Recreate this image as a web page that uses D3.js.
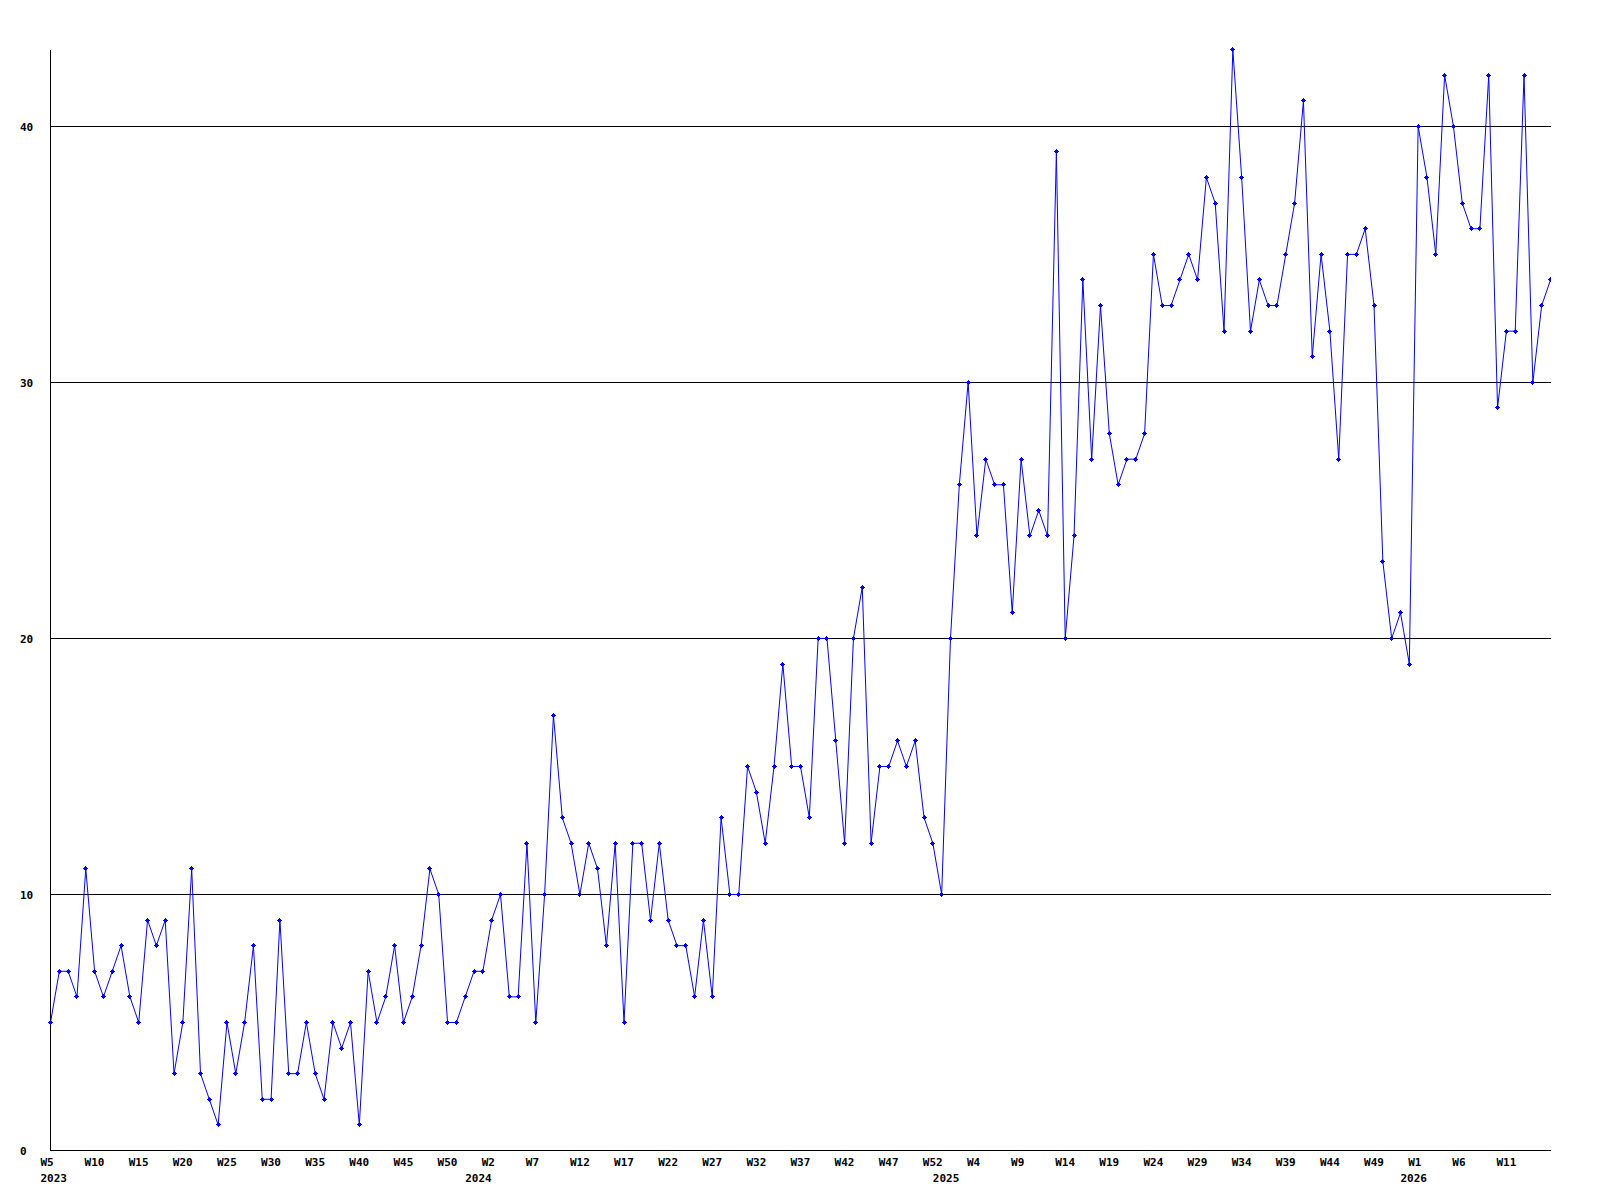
<!DOCTYPE html>
<html>
<head>
<meta charset="utf-8">
<script src="https://cdn.jsdelivr.net/npm/d3@7"></script>
<style>
  html, body { margin: 0; padding: 0; background: #fff; }
  svg { display: block; }
  .lbl { font-family: "DejaVu Sans Mono", monospace; font-weight: bold; font-size: 11px; fill: #000; }
</style>
</head>
<body>
<svg id="chart" width="1600" height="1200"></svg>
<script>
// ---- data ----
const yearWeeks = [["2023", 5, 53], ["2024", 1, 53], ["2025", 1, 53], ["2026", 1, 16]];
const categories = [];
yearWeeks.forEach(([yr, a, b]) => { for (let w = a; w <= b; w++) categories.push(yr + "-W" + w); });

const values = [
  5, 7, 7, 6, 11, 7, 6, 7, 8, 6, 5, 9, 8, 9, 3, 5, 11, 3, 2, 1,
  5, 3, 5, 8, 2, 2, 9, 3, 3, 5, 3, 2, 5, 4, 5, 1, 7, 5, 6, 8,
  5, 6, 8, 11, 10, 5, 5, 6, 7, 7, 9, 10, 6, 6, 12, 5, 10, 17, 13, 12,
  10, 12, 11, 8, 12, 5, 12, 12, 9, 12, 9, 8, 8, 6, 9, 6, 13, 10, 10, 15,
  14, 12, 15, 19, 15, 15, 13, 20, 20, 16, 12, 20, 22, 12, 15, 15, 16, 15, 16, 13,
  12, 10, 20, 26, 30, 24, 27, 26, 26, 21, 27, 24, 25, 24, 39, 20, 24, 34, 27, 33,
  28, 26, 27, 27, 28, 35, 33, 33, 34, 35, 34, 38, 37, 32, 43, 38, 32, 34, 33, 33,
  35, 37, 41, 31, 35, 32, 27, 35, 35, 36, 33, 23, 20, 21, 19, 40, 38, 35, 42, 40,
  37, 36, 36, 42, 29, 32, 32, 42, 30, 33, 34
];

const weekTicks = [
  "2023-W5", "2023-W10", "2023-W15", "2023-W20", "2023-W25", "2023-W30", "2023-W35", "2023-W40", "2023-W45", "2023-W50",
  "2024-W2", "2024-W7", "2024-W12", "2024-W17", "2024-W22", "2024-W27", "2024-W32", "2024-W37", "2024-W42", "2024-W47", "2024-W52",
  "2025-W4", "2025-W9", "2025-W14", "2025-W19", "2025-W24", "2025-W29", "2025-W34", "2025-W39", "2025-W44", "2025-W49",
  "2026-W1", "2026-W6", "2026-W11"
];
const yearTicks = ["2023-W5", "2024-W1", "2025-W1", "2026-W1"];
const yTicks = [0, 10, 20, 30, 40];
const gridValues = [10, 20, 30, 40];
const yMax = 43;

// ---- chart ----
const svg = d3.select("#chart");
const pLeft = 50.5, pRight = 1550.5, pTop = 49.5, pBottom = 1150.5;

const x = d3.scalePoint().domain(categories).range([pLeft, pRight]);
const y = d3.scaleLinear().domain([0, yMax]).range([pBottom, pTop]);
const step = x.step();

// gridlines
svg.append("g").selectAll("line").data(gridValues).join("line")
  .attr("x1", pLeft).attr("x2", pRight + 0.5)
  .attr("y1", d => Math.floor(y(d)) + 0.5).attr("y2", d => Math.floor(y(d)) + 0.5)
  .attr("stroke", "#000").attr("stroke-width", 1).attr("shape-rendering", "crispEdges");

// axes lines
svg.append("line").attr("x1", pLeft).attr("x2", pLeft).attr("y1", pTop).attr("y2", pBottom)
  .attr("stroke", "#000").attr("shape-rendering", "crispEdges");
svg.append("line").attr("x1", pLeft).attr("x2", pRight + 0.5).attr("y1", pBottom).attr("y2", pBottom)
  .attr("stroke", "#000").attr("shape-rendering", "crispEdges");

// y axis labels
const yAxis = d3.axisLeft(y).tickValues(yTicks).tickSize(0).tickFormat(d3.format("d"));
const gy = svg.append("g").call(yAxis);
gy.select(".domain").remove();
gy.attr("font-family", null).attr("font-size", null);
gy.selectAll("text").attr("class", "lbl").attr("x", 20).attr("text-anchor", "start")
  .attr("dy", "0.36em").attr("fill", null);

// x axis week labels
const xAxis = d3.axisBottom(x).tickValues(weekTicks).tickSize(0).tickFormat(d => d.split("-")[1]);
const gx = svg.append("g").attr("transform", "translate(0," + (pBottom - 0.5) + ")").call(xAxis);
gx.select(".domain").remove();
gx.attr("font-family", null).attr("font-size", null);
gx.selectAll("text").attr("class", "lbl").attr("text-anchor", "start").attr("dx", -10.5)
  .attr("y", 16).attr("dy", 0).attr("fill", null);

// year labels
const yrAxis = d3.axisBottom(x).tickValues(yearTicks).tickSize(0).tickFormat(d => d.split("-")[0]);
const gyr = svg.append("g").attr("transform", "translate(0," + (pBottom - 0.5) + ")").call(yrAxis);
gyr.select(".domain").remove();
gyr.attr("font-family", null).attr("font-size", null);
gyr.selectAll("text").attr("class", "lbl")
  .attr("text-anchor", (d, i) => i === 0 ? "start" : "middle")
  .attr("dx", (d, i) => i === 0 ? -10.5 : -(step / 2) - 0.5)
  .attr("y", 32).attr("dy", 0).attr("fill", null);

// clip
svg.append("clipPath").attr("id", "plotclip").append("rect")
  .attr("x", pLeft - 3).attr("y", pTop - 5).attr("width", pRight - pLeft + 3.5).attr("height", pBottom - pTop + 10);

const data = categories.map((c, i) => ({ c, v: values[i] }));
const plot = svg.append("g").attr("clip-path", "url(#plotclip)");

plot.append("path").datum(data)
  .attr("fill", "none").attr("stroke", "#0000ff").attr("stroke-width", 1)
  .attr("d", d3.line().x(d => x(d.c)).y(d => y(d.v)));

const mk = plot.append("g").attr("fill", "#0000ff").attr("shape-rendering", "crispEdges");
const pts = mk.selectAll("g").data(data).join("g")
  .attr("transform", d => "translate(" + Math.floor(x(d.c)) + "," + Math.floor(y(d.v)) + ")");
pts.append("rect").attr("x", -2).attr("y", 0).attr("width", 5).attr("height", 1);
pts.append("rect").attr("x", 0).attr("y", -2).attr("width", 1).attr("height", 5);
pts.append("rect").attr("x", -1).attr("y", -1).attr("width", 3).attr("height", 3);
</script>
</body>
</html>
